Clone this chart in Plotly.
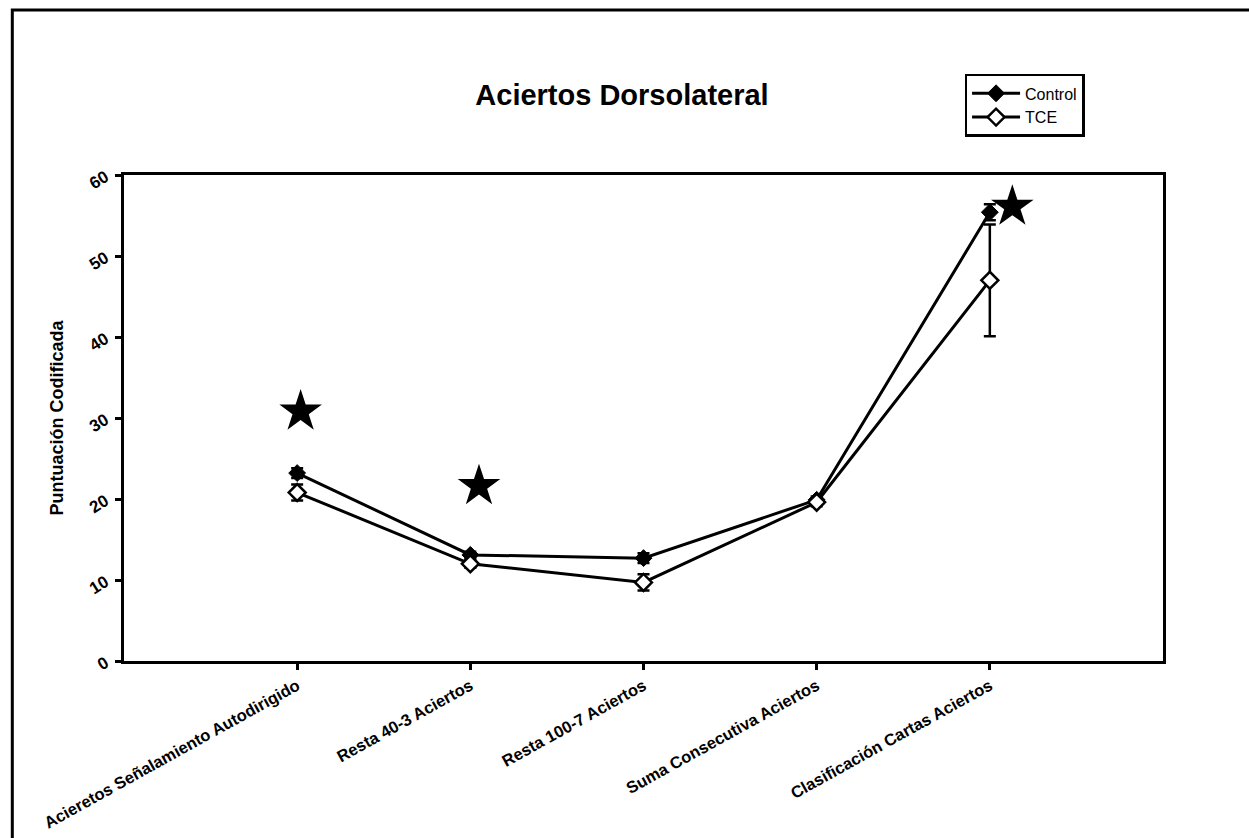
import plotly.graph_objects as go

# Task categories (x axis)
categorias = [
    "Acieretos Señalamiento Autodirigido",
    "Resta 40-3 Aciertos",
    "Resta 100-7 Aciertos",
    "Suma Consecutiva Aciertos",
    "Clasificación Cartas Aciertos",
]
posiciones = [0, 1, 2, 3, 4]

# Group means and standard errors
control_media = [23.2, 13.1, 12.7, 19.9, 55.4]
control_error = [0.6, 0.4, 0.6, 0.4, 1.0]
tce_media = [20.8, 12.0, 9.7, 19.6, 47.0]
tce_error = [1.0, 0.5, 1.0, 0.5, 6.9]

# Significance markers
estrella_x = [0.02, 1.05, 4.13]
estrella_y = [30.8, 21.6, 56.1]

y_ticks = [0, 10, 20, 30, 40, 50, 60]

FONT = "Liberation Sans, Arial, sans-serif"

fig = go.Figure()

fig.add_trace(go.Scatter(
    x=posiciones, y=control_media, name="Control", mode="lines+markers",
    line=dict(color="black", width=3),
    marker=dict(symbol="diamond", size=13, color="black",
                line=dict(color="black", width=1)),
    error_y=dict(type="data", array=control_error, visible=True,
                 color="black", thickness=2.5, width=6),
))

fig.add_trace(go.Scatter(
    x=posiciones, y=tce_media, name="TCE", mode="lines+markers",
    line=dict(color="black", width=3),
    marker=dict(symbol="diamond", size=13, color="white",
                line=dict(color="black", width=2.5)),
    error_y=dict(type="data", array=tce_error, visible=True,
                 color="black", thickness=2.5, width=6),
))

fig.add_trace(go.Scatter(
    x=estrella_x, y=estrella_y, mode="markers", showlegend=False,
    marker=dict(symbol="star", size=32, color="black"),
    hoverinfo="skip",
))

# Outer frame around the whole figure
fig.add_shape(type="rect", xref="paper", yref="paper",
              x0=-0.1075, x1=1.12, y0=-0.45, y1=1.3395,
              line=dict(color="black", width=3), fillcolor="rgba(0,0,0,0)",
              layer="above")

fig.update_layout(
    width=1249, height=838,
    margin=dict(l=124, r=86, t=175, b=177),
    paper_bgcolor="white", plot_bgcolor="white",
    font=dict(family=FONT, color="black"),
    title=dict(text="<b>Aciertos Dorsolateral</b>", x=622 / 1249,
               xanchor="center", y=1 - 95 / 838, yanchor="middle",
               font=dict(size=29, family=FONT, color="black")),
    legend=dict(x=0.809, y=1.208, xanchor="left", yanchor="top",
                bordercolor="black", borderwidth=2.5, bgcolor="white",
                font=dict(size=16, family=FONT, color="black"),
                tracegroupgap=0, itemwidth=48),
    showlegend=True,
)

fig.update_xaxes(
    range=[-1, 5], tickvals=posiciones,
    ticktext=[f"<b>{c}</b>" for c in categorias],
    tickangle=-29, tickfont=dict(size=16.5, family=FONT, color="black"),
    automargin=False,
    showline=True, linecolor="black", linewidth=3, mirror=True,
    ticks="outside", ticklen=6, tickwidth=3, tickcolor="black",
    showgrid=False, zeroline=False,
)

fig.update_yaxes(
    range=[0, 60], tickvals=y_ticks,
    ticktext=[f"<b>{v}</b>" for v in y_ticks],
    tickangle=-32, tickfont=dict(size=17, family=FONT, color="black"),
    ticklabelstandoff=6, automargin=False,
    title=dict(text="<b>Puntuación Codificada</b>", standoff=18,
               font=dict(size=18, family=FONT, color="black")),
    showline=True, linecolor="black", linewidth=3, mirror=True,
    ticks="outside", ticklen=6, tickwidth=3, tickcolor="black",
    showgrid=False, zeroline=False,
)

fig.write_html("out.html")
